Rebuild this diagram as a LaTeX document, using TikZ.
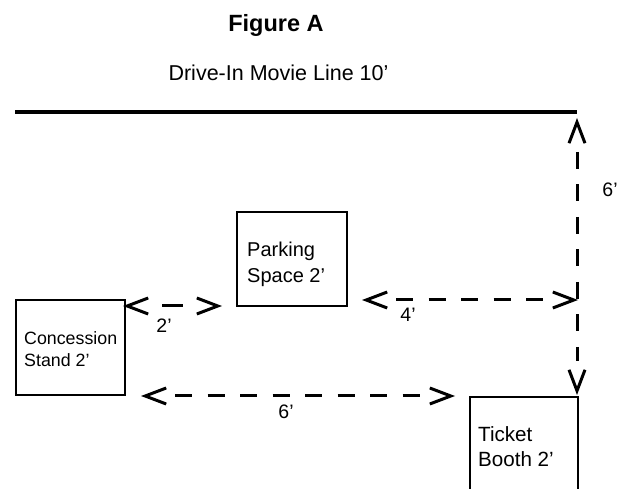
\documentclass[tikz,border=0pt]{standalone}
\usepackage{fontspec}
\setmainfont{Liberation Sans}
\usetikzlibrary{arrows.meta}
\begin{document}
\begin{tikzpicture}[x=1pt,y=-1pt,
  box/.style={draw, line width=2pt, inner sep=0pt},
  boxtext/.style={inner sep=0pt, align=left, anchor=north west},
  dimlbl/.style={inner sep=0pt, anchor=base, font=\fontsize{19.5}{23}\selectfont},
  shaft/.style={line width=3pt, dash pattern=on 17pt off 15.5pt, shorten <=34pt, shorten >=34pt},
  heads/.style={line width=3pt, dash pattern=on 0pt off 2000pt,
    {Straight Barb[length=21pt,width=16pt]}-{Straight Barb[length=21pt,width=16pt]}},
]
\useasboundingbox (0,0) rectangle (630,489);
\clip (0,0) rectangle (630,489);

% titles
\node[inner sep=0pt, anchor=base, font=\fontsize{23.5}{28}\selectfont\bfseries] (title) at (276,32) {Figure A};
\node[inner sep=0pt, anchor=base, font=\fontsize{21.5}{26}\selectfont] (linelbl) at (278.5,81) {Drive-In Movie Line 10’};

% drive-in line
\coordinate (lineL) at (15,112);
\coordinate (lineR) at (577,112);
\draw[line width=4.5pt] (lineL) -- (lineR);

% boxes
\node[box, minimum width=110pt, minimum height=94pt] (park) at (292,259) {};
\node[box, minimum width=109pt, minimum height=95pt] (conc) at (70.5,347.5) {};
\node[box, minimum width=108pt, minimum height=110pt] (tick) at (524,452) {};

\node[boxtext, font=\fontsize{20}{25.5}\selectfont] (parkt) at (247,242) {Parking\\Space 2’};
\node[boxtext, font=\fontsize{17.8}{22}\selectfont] (conct) at (24,331) {Concession\\Stand 2’};
\node[boxtext, font=\fontsize{20.6}{25}\selectfont] (tickt) at (478,426) {Ticket\\Booth 2’};

% arrow end points
\coordinate (vTop) at (577,118);
\coordinate (vBot) at (577,395);
\coordinate (a4L) at (362,300);
\coordinate (a4R) at (578,300);
\coordinate (a2L) at (123,306);
\coordinate (a2R) at (222,306);
\coordinate (a6L) at (141,396);
\coordinate (a6R) at (455,396);

% dimension arrows
\draw[shaft] (vTop) -- (vBot);
\draw[heads] (vTop) -- (vBot);
\draw[shaft] (a4L) -- (a4R);
\draw[heads] (a4L) -- (a4R);
\draw[shaft, shorten <=39pt, shorten >=39pt, dash pattern=on 21pt off 20pt] (a2L) -- (a2R);
\draw[heads] (a2L) -- (a2R);
\draw[shaft] (a6L) -- (a6R);
\draw[heads] (a6L) -- (a6R);

% dimension labels
\node[dimlbl] (l6v) at (610,197) {6’};
\node[dimlbl] (l4) at (408,322) {4’};
\node[dimlbl] (l2) at (164,333) {2’};
\node[dimlbl] (l6h) at (286,419) {6’};
\end{tikzpicture}
\end{document}
